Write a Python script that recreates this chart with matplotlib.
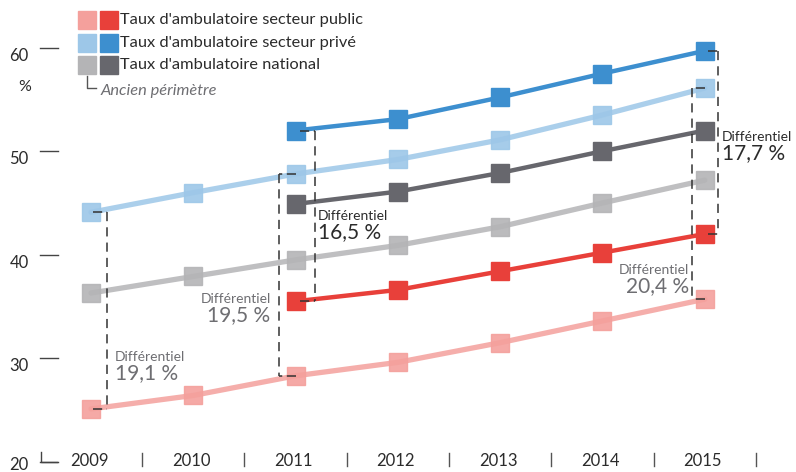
import matplotlib
matplotlib.use("Agg")
import matplotlib.pyplot as plt

plt.rcParams['font.family'] = ['Lato', 'DejaVu Sans']

years_old = [2009, 2010, 2011, 2012, 2013, 2014, 2015]
years_new = [2011, 2012, 2013, 2014, 2015]

prive_ancien = [44.1, 46.0, 47.8, 49.2, 51.1, 53.5, 56.1]
national_ancien = [36.3, 37.9, 39.5, 40.9, 42.7, 45.0, 47.2]
public_ancien = [25.1, 26.4, 28.3, 29.6, 31.5, 33.6, 35.7]
prive = [52.0, 53.1, 55.2, 57.5, 59.7]
national = [44.9, 46.1, 47.9, 50.0, 52.0]
public = [35.5, 36.6, 38.4, 40.2, 42.0]

y_ticks = [20, 30, 40, 50, 60]
legend_labels = ["Taux d'ambulatoire secteur public",
                 "Taux d'ambulatoire secteur privé",
                 "Taux d'ambulatoire national"]

C_RED, C_RED_L = '#E8403A', '#F4A09C'
C_BLUE, C_BLUE_L = '#3D8FCF', '#9DC7E8'
C_GRAY, C_GRAY_L = '#67676D', '#B4B4B6'
C_TXT = '#2b2b2b'
C_TXT2 = '#6e6e72'

fig = plt.figure(figsize=(7.96, 4.72), dpi=100)
ax = fig.add_axes([0, 0, 1, 1])
ax.set_xlim(2008.110, 2015.892)
ax.set_ylim(19.005, 64.609)
ax.axis('off')

PX_X = 1 / 102.3
PX_Y = 1 / 10.35

def ypx(p):
    return 60 - (p - 47.7) * PX_Y

# light (ancien) series
for vals, c in [(prive_ancien, C_BLUE_L), (national_ancien, C_GRAY_L), (public_ancien, C_RED_L)]:
    ax.plot(years_old, vals, ls='none', marker='s', ms=12.5, color=c, alpha=0.9, zorder=2)
    ax.plot(years_old, vals, color=c, lw=3.8, alpha=0.85, solid_capstyle='round', zorder=3)

# dark series
for vals, c in [(prive, C_BLUE), (national, C_GRAY), (public, C_RED)]:
    ax.plot(years_new, vals, color=c, lw=3.2, zorder=4)
    ax.plot(years_new, vals, ls='none', marker='s', ms=12.5, color=c, zorder=5)

def bracket(x_line, x_tick, y_top, y_bot):
    ax.plot([x_line, x_line], [y_top, y_bot], color='#333333', lw=1.1,
            dashes=(6, 4), zorder=6)
    for yy in (y_top, y_bot):
        ax.plot([x_tick, x_line], [yy, yy], color='#333333', lw=1.1,
                dashes=(6, 3), zorder=6)

def diff_text(x, y, value, color, ha='left'):
    ax.text(x, y, 'Différentiel', color=color, fontsize=10, ha=ha, va='center', zorder=7)
    ax.text(x, y - 1.6, value, color=color, fontsize=15, ha=ha, va='center', zorder=7)

# 2009 ancien
bracket(2009 + 16 * PX_X, 2009 + 2 * PX_X, prive_ancien[0], public_ancien[0])
diff_text(2009 + 24 * PX_X, ypx(357), '19,1 %', C_TXT2)
# 2011 ancien
bracket(2011 - 17 * PX_X, 2011, prive_ancien[2], public_ancien[2])
diff_text(2011 - 25 * PX_X, ypx(299), '19,5 %', C_TXT2, ha='right')
# 2011 nouveau
bracket(2011 + 19 * PX_X, 2011 + 4 * PX_X, prive[0], public[0])
diff_text(2011 + 22 * PX_X, ypx(216), '16,5 %', C_TXT)
# 2015 ancien
bracket(2015 - 13 * PX_X, 2015, prive_ancien[-1], public_ancien[-1])
diff_text(2015 - 16 * PX_X, ypx(270), '20,4 %', C_TXT2, ha='right')
# 2015 nouveau
bracket(2015 + 13 * PX_X, 2015 + 3 * PX_X, prive[-1], public[-1])
diff_text(2015 + 17 * PX_X, ypx(137), '17,7 %', C_TXT)

# y ticks
x_t0 = 2009 - 51 * PX_X
x_t1 = 2009 - 33 * PX_X
for t in y_ticks:
    ax.plot([x_t0, x_t1], [t, t], color='#444444', lw=1.0)
    yl = t - 0.8 if t > 20 else t - 0.35
    ax.text(2009 - 72 * PX_X, yl, str(t), color=C_TXT, fontsize=12,
            ha='center', va='center')
ax.text(2009 - 66 * PX_X, ypx(87), '%', color=C_TXT, fontsize=11.5,
        ha='center', va='center')

# x labels and separators
y_lab = ypx(461)
for yr in years_old:
    ax.text(yr - 2 * PX_X, y_lab, str(yr), color=C_TXT, fontsize=12, ha='center', va='center')
    ax.plot([yr + 0.5, yr + 0.5], [ypx(453), ypx(466)], color='#555555', lw=1.0)
# corner mark
ax.plot([2009 - 50 * PX_X, 2009 - 50 * PX_X, 2009 - 34 * PX_X],
        [ypx(452), ypx(462), ypx(462)], color='#444444', lw=1.0)

# legend (manual)
leg_rows = [(C_RED_L, C_RED), (C_BLUE_L, C_BLUE), (C_GRAY_L, C_GRAY)]
for i, ((cl, cd), lab) in enumerate(zip(leg_rows, legend_labels)):
    yy = ypx(20 + i * 22.5)
    ax.plot([2009 - 4.5 * PX_X], [yy], marker='s', ms=12.5, color=cl, ls='none')
    ax.plot([2009 + 17.5 * PX_X], [yy], marker='s', ms=12.5, color=cd, ls='none')
    ax.text(2009 + 29 * PX_X, yy, lab, color=C_TXT, fontsize=11.8, ha='left', va='center')
yb = ypx(91)
ax.plot([2009 - 4 * PX_X, 2009 - 4 * PX_X, 2009 + 5 * PX_X],
        [ypx(76), yb + 0.3, yb + 0.3], color='#555555', lw=1.0)
ax.text(2009 + 9 * PX_X, yb, 'Ancien périmètre', color=C_TXT2, fontsize=11.8,
        style='italic', ha='left', va='center')

fig.savefig('out.png', dpi=100)
